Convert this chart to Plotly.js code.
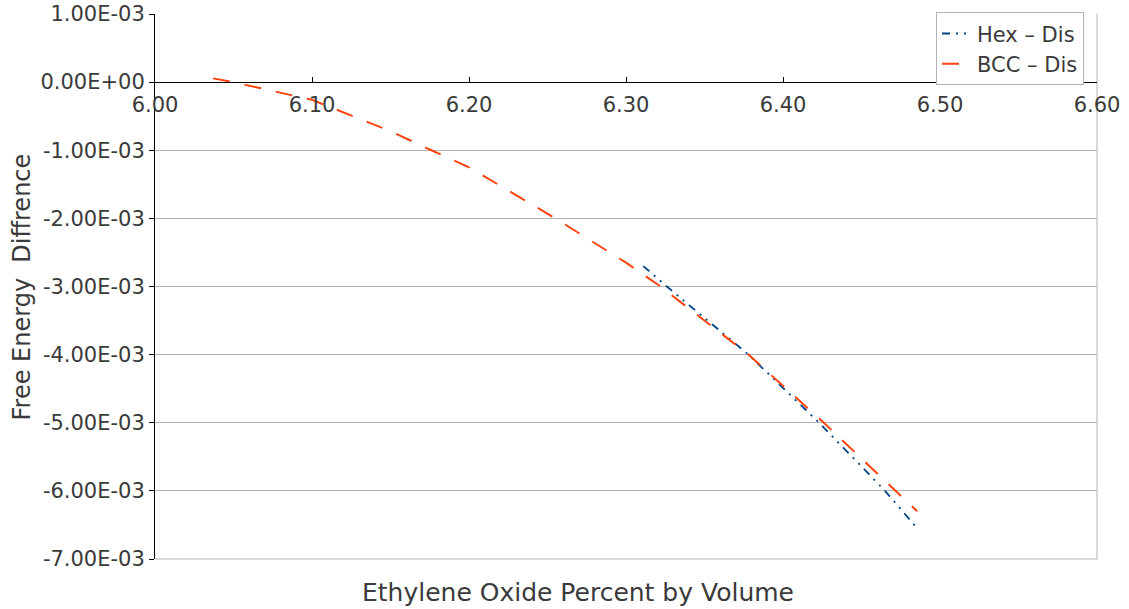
<!DOCTYPE html>
<html>
<head>
<meta charset="utf-8">
<script src="https://cdn.plot.ly/plotly-3.0.1.min.js"></script>
<style>html,body{margin:0;padding:0;background:#fff;}#chart{width:1129px;height:609px;}</style>
</head>
<body>
<div id="chart"></div>
<script>
// Data
const seriesNames = ["Hex \u2013 Dis", "BCC \u2013 Dis"];
const hexX = [6.311, 6.326, 6.378, 6.423, 6.465, 6.4855];
const hexY = [-2.70e-3, -3.00e-3, -4.00e-3, -5.00e-3, -6.00e-3, -6.55e-3];
const bccX = [6.037, 6.050, 6.100, 6.150, 6.176, 6.200, 6.255, 6.300, 6.322, 6.378, 6.426, 6.472, 6.4855];
const bccY = [0.055e-3, 0.0, -0.26e-3, -0.72e-3, -1.00e-3, -1.25e-3, -2.00e-3, -2.65e-3, -3.00e-3, -4.00e-3, -5.00e-3, -6.00e-3, -6.30e-3];

const xTickVals = [6.00, 6.10, 6.20, 6.30, 6.40, 6.50, 6.60];
const xTickText = ["6.00", "6.10", "6.20", "6.30", "6.40", "6.50", "6.60"];
const yTickVals = [1e-3, 0, -1e-3, -2e-3, -3e-3, -4e-3, -5e-3, -6e-3, -7e-3];
const yTickText = ["1.00E-03", "0.00E+00", "-1.00E-03", "-2.00E-03", "-3.00E-03", "-4.00E-03", "-5.00E-03", "-6.00E-03", "-7.00E-03"];

const xTitle = "Ethylene Oxide Percent by Volume";
const yTitle = "Free Energy\u00a0\u00a0Diffrence";

const FONT = "DejaVu Sans, Liberation Sans, Arial, sans-serif";
const TXT = "#3a3a3a";
const GRID = "#b3b3b3";

const traces = [
  {
    x: hexX, y: hexY, name: seriesNames[0], type: "scatter", mode: "lines",
    line: {color: "#004586", width: 1.8, dash: "8px,6px,2px,6px,2px,6px"}
  },
  {
    x: bccX, y: bccY, name: seriesNames[1], type: "scatter", mode: "lines",
    line: {color: "#ff420e", width: 2, dash: "17px,15px"}
  }
];

const layout = {
  width: 1129, height: 609,
  margin: {l: 155, r: 32, t: 14, b: 50, pad: 0},
  paper_bgcolor: "#ffffff", plot_bgcolor: "#ffffff",
  font: {family: FONT, color: TXT, size: 21},
  showlegend: true,
  legend: {
    x: 0.9862, y: 1.003, xanchor: "right", yanchor: "top",
    bgcolor: "#ffffff", bordercolor: GRID, borderwidth: 1,
    font: {family: FONT, size: 21, color: TXT},
    tracegroupgap: 0
  },
  xaxis: {
    range: [6.0, 6.6],
    tickmode: "array", tickvals: xTickVals, ticktext: xTickText,
    showgrid: false, zeroline: false,
    showline: true, linecolor: "#000000", linewidth: 1,
    ticks: "inside", ticklen: 5, tickcolor: "#000000",
    tickfont: {family: FONT, size: 21, color: TXT},
    anchor: "free", position: 0.875,
    ticklabelstandoff: 4
  },
  yaxis: {
    range: [-7e-3, 1e-3],
    tickmode: "array", tickvals: yTickVals, ticktext: yTickText,
    showgrid: true, gridcolor: GRID, gridwidth: 1,
    zeroline: false,
    showline: true, linecolor: "#000000", linewidth: 1,
    ticks: "outside", ticklen: 5, tickcolor: "#000000",
    tickfont: {family: FONT, size: 21, color: TXT}
  },
  shapes: [
    {type: "line", xref: "paper", yref: "paper", x0: 1, x1: 1, y0: 0, y1: 1,
     line: {color: GRID, width: 1}, layer: "below"},
    {type: "line", xref: "paper", yref: "paper", x0: 0, x1: 1, y0: 0, y1: 0,
     line: {color: GRID, width: 1}, layer: "below"}
  ],
  annotations: [
    {text: xTitle, xref: "paper", yref: "paper", x: 0.449, y: -0.0606,
     xanchor: "center", yanchor: "middle", showarrow: false,
     font: {family: FONT, size: 25, color: TXT}},
    {text: yTitle, xref: "paper", yref: "paper", x: -0.1412, y: 0.5,
     xanchor: "center", yanchor: "middle", textangle: -90, showarrow: false,
     font: {family: FONT, size: 24, color: TXT}}
  ]
};

Plotly.newPlot("chart", traces, layout, {displayModeBar: false, staticPlot: true});
</script>
</body>
</html>
